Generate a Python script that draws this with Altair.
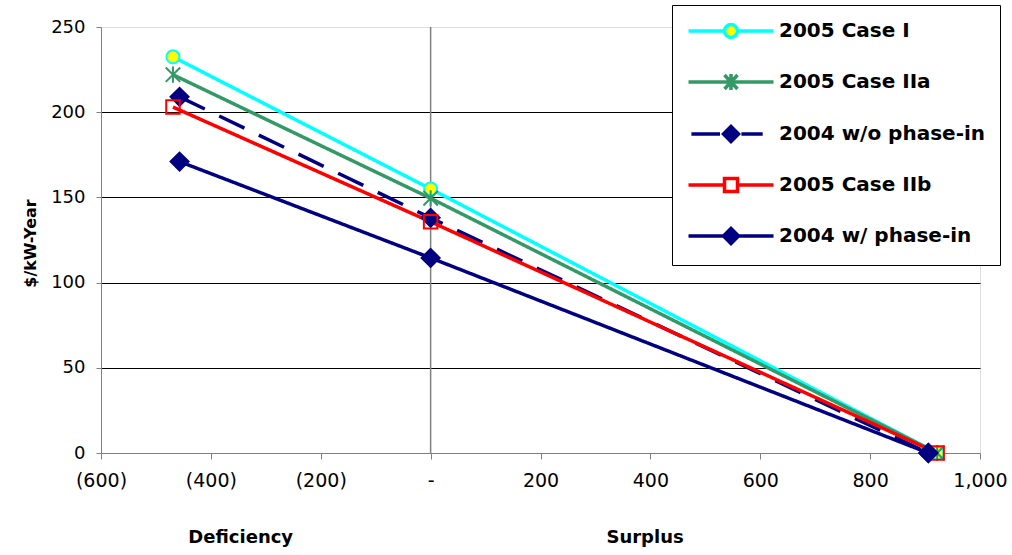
import altair as alt
import pandas as pd

series = ["2005 Case I", "2005 Case IIa", "2004 w/o phase-in", "2005 Case IIb", "2004 w/ phase-in"]
x_left = [-469, -469, -457, -469, -457]
x_mid = [0, 0, 0, 0, 0]
x_right = [922, 922, 906, 922, 906]
val_left = [232.5, 222, 209, 203, 171]
val_mid = [155, 149.5, 138, 135.7, 114.5]
val_right = [0, 0, 0, 0, 0]

x_ticks = [-600, -400, -200, 0, 200, 400, 600, 800, 1000]
y_ticks = [0, 50, 100, 150, 200, 250]

line_colors = ["#00FFFF", "#339966", "#000080", "#FF0000", "#000080"]
fill_colors = ["#FFFF00", "transparent", "#000080", "transparent", "#000080"]
dashes = [[1, 0], [1, 0], [28, 16], [1, 0], [1, 0]]

plot_shapes = [
    "M0.72,0A0.72,0.72 0 1,1 -0.72,0A0.72,0.72 0 1,1 0.72,0Z",
    "M0,-0.9V0.9M-0.8,-0.8L0.8,0.8M-0.8,0.8L0.8,-0.8",
    "M0,-1L1,0L0,1L-1,0Z",
    "M-0.75,-0.75H0.75V0.75H-0.75Z",
    "M0,-1L1,0L0,1L-1,0Z",
]
legend_shapes = [
    "M-4.25,0H-0.65M0.65,0H4.25M0.65,0A0.65,0.65 0 1,1 -0.65,0A0.65,0.65 0 1,1 0.65,0Z",
    "M-4.25,0H4.25M0,-0.8V0.8M-0.65,-0.7L0.65,0.7M-0.65,0.7L0.65,-0.7",
    "M-3.96,0H-1.1M1.04,0H3.17M0,-0.75L0.75,0L0,0.75L-0.75,0Z",
    "M-4.25,0H-0.65M0.65,0H4.25M-0.65,-0.65H0.65V0.65H-0.65Z",
    "M-4.25,0H-0.75M0.75,0H4.25M0,-0.75L0.75,0L0,0.75L-0.75,0Z",
]

rows = []
for i, s in enumerate(series):
    for xv, yv in ((x_left[i], val_left[i]), (x_mid[i], val_mid[i]), (x_right[i], val_right[i])):
        rows.append({"series": s, "x": xv, "y": yv, "order": i})
df = pd.DataFrame(rows)

FONT = "DejaVu Sans"

xscale = alt.Scale(domain=[-600, 1000], nice=False, zero=False)
yscale = alt.Scale(domain=[0, 250], nice=False)

x_label_expr = ("datum.value < 0 ? '(' + format(-datum.value, ',') + ')' : "
                "(datum.value == 0 ? '-' : format(datum.value, ','))")

x_title = "Deficiency" + "\u00a0" * 50 + "Surplus"

xenc = alt.X("x:Q", scale=xscale, axis=alt.Axis(
    values=x_ticks, labelExpr=x_label_expr, grid=False,
    domainColor="#808080", tickColor="#808080", tickSize=6,
    labelFont=FONT, labelFontSize=19, labelColor="black", labelPadding=12,
    title=x_title, titleFont=FONT, titleFontSize=18, titleFontWeight="bold",
    titleColor="black", titleX=334.5, titleY=89, titleAlign="center",
    titleBaseline="alphabetic", labelFlush=False, labelOverlap=False))
yenc = alt.Y("y:Q", scale=yscale, axis=alt.Axis(
    values=y_ticks, grid=True, gridColor="black", gridWidth=1,
    gridOpacity={"condition": {"test": "datum.value == 0 || datum.value == 250", "value": 0}, "value": 1},
    domainColor="#808080", tickColor="#808080", tickSize=5,
    labelFont=FONT, labelFontSize=18, labelColor="black", labelPadding=11,
    title="$/kW-Year", titleFont=FONT, titleFontSize=16, titleFontWeight="bold",
    titleColor="black", titleX=-71, titleY=216, titleAngle=270,
    titleAlign="center", titleBaseline="middle"))

base = alt.Chart(df)

zero_rule = alt.Chart(pd.DataFrame({"x": [0]})).mark_rule(color="#808080", strokeWidth=1.5).encode(
    x=alt.X("x:Q", scale=xscale))

lines = base.mark_line(strokeWidth=3.5).encode(
    x=xenc, y=yenc,
    color=alt.Color("series:N", scale=alt.Scale(domain=series, range=line_colors), legend=None),
    strokeDash=alt.StrokeDash("series:N", scale=alt.Scale(domain=series, range=dashes), legend=None),
    order=alt.Order("x:Q"),
)

points = base.mark_point(size=324, strokeWidth=2, opacity=1).encode(
    x=alt.X("x:Q", scale=xscale), y=alt.Y("y:Q", scale=yscale),
    stroke=alt.Stroke("series:N", scale=alt.Scale(domain=series, range=line_colors), legend=None),
    fill=alt.Fill("series:N", scale=alt.Scale(domain=series, range=fill_colors), legend=None),
    shape=alt.Shape("series:N", scale=alt.Scale(domain=series, range=plot_shapes), legend=None),
)

leg = alt.Legend(
    title=None, orient="none", legendX=571, legendY=-22,
    labelFont=FONT, labelFontSize=20, labelFontWeight="bold", labelColor="black",
    fillColor="white", strokeColor="black", padding=14, rowPadding=22,
    symbolSize=400, symbolStrokeWidth=3.5, symbolOffset=33, labelOffset=36, labelLimit=400,
    symbolLimit=10,
)

legend_layer = base.transform_filter("false").mark_point(size=400, strokeWidth=3.5, opacity=1).encode(
    stroke=alt.Stroke("series:N", scale=alt.Scale(domain=series, range=line_colors), legend=leg),
    fill=alt.Fill("series:N", scale=alt.Scale(domain=series, range=fill_colors), legend=leg),
    shape=alt.Shape("series:N", scale=alt.Scale(domain=series, range=legend_shapes), legend=leg),
)

chart = alt.layer(zero_rule, lines, points, legend_layer).resolve_scale(
    shape="independent", stroke="independent", fill="independent"
).properties(
    width=879, height=426,
    padding={"left": 101, "top": 27, "right": 32, "bottom": 102},
    autosize=alt.AutoSizeParams(type="none"),
).configure_view(stroke=None).configure(background="white")

chart.save("out.html", embed_options={"renderer": "svg", "actions": False})
